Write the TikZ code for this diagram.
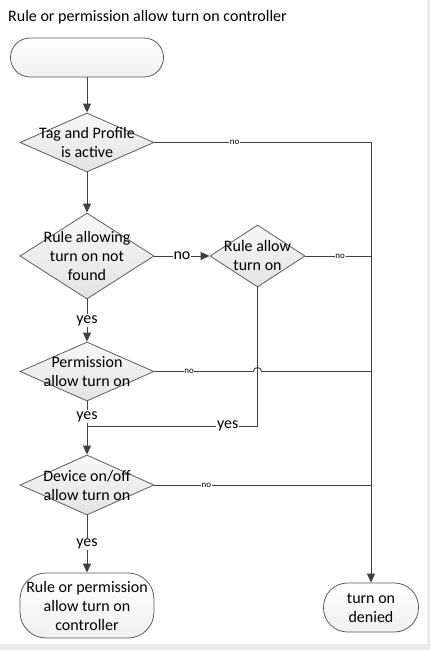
\documentclass[tikz,border=0pt]{standalone}
\usepackage{fontspec}
\setmainfont{Carlito}
\usetikzlibrary{arrows.meta,shapes.geometric}
\definecolor{linegray}{HTML}{404040}
\definecolor{edgegray}{HTML}{5C5C5C}
\definecolor{framegray}{HTML}{EBEBEB}
\newcommand{\mainsize}{\fontsize{16}{19}\selectfont}
\newcommand{\tinysize}{\fontsize{9}{9}\selectfont}

\begin{document}
\begin{tikzpicture}[x=1pt,y=-1pt,>={Triangle[length=9pt,width=8pt]},
    base/.style={draw=edgegray,line width=0.8pt,font=\mainsize,align=center,inner sep=0pt},
    decision/.style={base,diamond,top color=gray!6,bottom color=gray!22},
    terminal/.style={base,rectangle,top color=white,bottom color=gray!12},
    flow/.style={draw=linegray,line width=0.9pt,->},
    link/.style={draw=linegray,line width=0.9pt},
    yeslabel/.style={fill=white,font=\mainsize,inner sep=1pt},
    nolabel/.style={fill=white,font=\tinysize,inner sep=0.6pt}]
  \useasboundingbox (0,0) rectangle (430,650);
  \fill[white] (0,0) rectangle (430,650);
  \fill[framegray] (427,0) rectangle (430,650);
  \fill[framegray] (0,644) rectangle (430,650);

  \node[anchor=base west,font=\mainsize,inner sep=0pt] (title) at (8,22)
    {Rule or permission allow turn on controller};

  % shapes
  \node[terminal,minimum width=153pt,minimum height=39pt,rounded corners=19.5pt] (start) at (87,57.5) {};
  \node[decision,minimum width=134pt,minimum height=59pt,inner sep=-25pt] (tag) at (87,142.5)
    {Tag and Profile\\is active};
  \node[decision,minimum width=134pt,minimum height=86pt,inner sep=-35pt] (rule) at (87,256)
    {Rule allowing\\turn on not\\found};
  \node[decision,minimum width=95pt,minimum height=62pt,inner sep=-25pt] (allow) at (257.5,256)
    {Rule allow\\turn on};
  \node[decision,minimum width=134pt,minimum height=59pt,inner sep=-25pt] (perm) at (87,371.5)
    {Permission\\allow turn on};
  \node[decision,minimum width=134pt,minimum height=60pt,inner sep=-25pt] (device) at (87,485)
    {Device on/off\\allow turn on};
  \node[terminal,minimum width=134pt,minimum height=65pt,rounded corners=26pt] (ctrl) at (87,605.5)
    {Rule or permission\\allow turn on\\controller};
  \node[terminal,minimum width=95pt,minimum height=49pt,rounded corners=24pt] (denied) at (371,607.5)
    {turn on\\denied};

  \coordinate (join) at (87,426);
  \coordinate (hop) at (perm.east -| allow.south);

  % connectors
  \draw[flow] (start) -- (tag);
  \draw[flow] (tag) -- (rule);
  \draw[flow] (rule) -- node[yeslabel] {yes} (perm);
  \draw[link] (perm.south) -- node[yeslabel,pos=0.62] {yes} (join);
  \draw[flow] (allow.south) -- (allow.south |- join)
    -- node[yeslabel,pos=0.175] {yes} (join) -- (device.north);
  \draw[flow] (device) -- node[yeslabel] {yes} (ctrl);
  \draw[flow] (rule.east) -- node[yeslabel] {no} (allow.west);

  \draw[flow] (tag.east) -- node[nolabel,pos=0.37] {no} (tag.east -| denied.north) -- (denied.north);
  \draw[link] (allow.east) -- node[nolabel,pos=0.53] {no} (allow.east -| denied.north);
  \draw[link] (perm.east) -- node[nolabel,pos=0.35] {no} ([xshift=-4pt]hop)
    arc[start angle=180,end angle=0,radius=4pt] -- (perm.east -| denied.north);
  \draw[link] (device.east) -- node[nolabel,pos=0.24] {no} (device.east -| denied.north);
\end{tikzpicture}
\end{document}
